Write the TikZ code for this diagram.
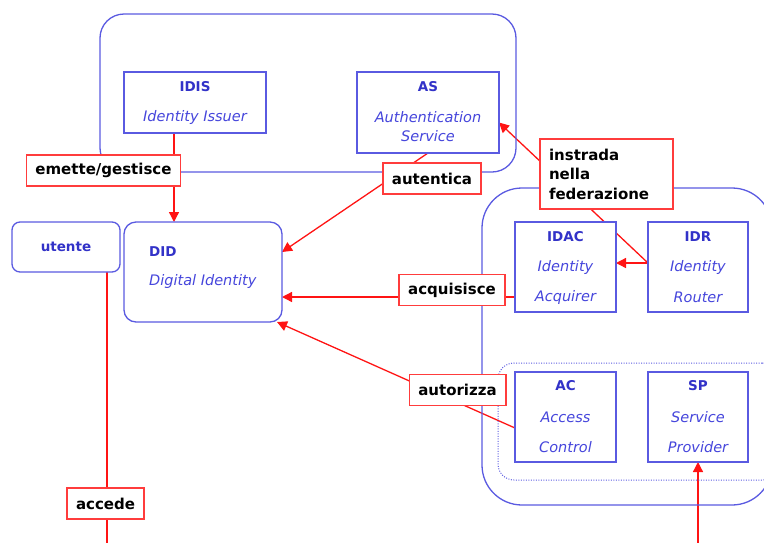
\documentclass[tikz,border=0pt]{standalone}
\usepackage{fontspec}
\setmainfont{DejaVu Sans}
\usetikzlibrary{arrows.meta,positioning,calc}
\pgfdeclarelayer{bg}
\pgfsetlayers{bg,main}
\definecolor{fedblue}{RGB}{90,90,225}
\definecolor{titleblue}{RGB}{50,50,200}
\definecolor{subblue}{RGB}{70,70,220}
\definecolor{linkred}{RGB}{255,20,20}
\definecolor{boxred}{RGB}{255,60,60}
\tikzstyle{container} = [rectangle, draw=fedblue, line width=1.3pt, inner sep=0pt, outer sep=0pt]
\tikzstyle{block} = [rectangle, draw=fedblue, fill=white, line width=1.3pt, inner sep=0pt, outer sep=0pt]
\tikzstyle{blocktitle} = [text=titleblue, font=\bfseries\fontsize{13.5}{15}\selectfont, inner sep=0pt]
\tikzstyle{blocksub} = [text=subblue, font=\itshape\fontsize{14.5}{17}\selectfont, inner sep=0pt]
\tikzstyle{verb} = [rectangle, draw=boxred, fill=white, line width=1.6pt, font=\bfseries\fontsize{15}{19.5}\selectfont, minimum height=31pt, inner xsep=9pt, inner ysep=0pt, outer sep=0pt]
\tikzstyle{link} = [draw=linkred, line width=1.3pt]
\tikzstyle{flow} = [link, -{Triangle[length=10pt,width=10pt]}]

\begin{document}
\begin{tikzpicture}[x=1pt, y=-1pt]
    \useasboundingbox (0,0) rectangle (764,542);

    \node[container, rounded corners=24pt, minimum width=416pt, minimum height=158pt] at (308,93) (fedtop) {};
    \node[container, rounded corners=40pt, minimum width=290pt, minimum height=317pt] at (627,346.5) (fedright) {};
    \node[container, line width=1pt, dash pattern=on 1pt off 1.5pt, rounded corners=16pt, minimum width=280pt, minimum height=117pt] at (638,421.5) (spdomain) {};

    \node[block, minimum width=142pt, minimum height=61pt] at (195,102.5) (idis) {};
    \node[blocktitle] at ($(idis.center)+(0,-16)$) (idisname) {IDIS};
    \node[blocksub] at ($(idis.center)+(0,15)$) (idisrole) {Identity Issuer};

    \node[block, minimum width=142pt, minimum height=81pt] at (428,112.5) (as) {};
    \node[blocktitle] at ($(as.center)+(0,-26)$) (asname) {AS};
    \node[blocksub] at ($(as.center)+(0,5)$) (asrole) {Authentication};
    \node[blocksub] at ($(as.center)+(0,24)$) (asrole2) {Service};

    \node[block, rounded corners=8pt, minimum width=108pt, minimum height=50pt, blocktitle] at (66,247) (utente) {utente};

    \node[block, rounded corners=12pt, minimum width=158pt, minimum height=100pt] at (203,272) (did) {};
    \node[blocktitle, anchor=west] at ($(did.center)+(-54,-20)$) (didname) {DID};
    \node[blocksub, anchor=west] at ($(did.center)+(-54,9)$) (didrole) {Digital Identity};

    \node[block, minimum width=101pt, minimum height=90pt] at (565.5,267) (idac) {};
    \node[blocktitle] at ($(idac.center)+(0,-30)$) (idacname) {IDAC};
    \node[blocksub] at ($(idac.center)+(0,0)$) (idacrole) {Identity};
    \node[blocksub] at ($(idac.center)+(0,30)$) (idacrole2) {Acquirer};

    \node[block, minimum width=100pt, minimum height=90pt] at (698,267) (idr) {};
    \node[blocktitle] at ($(idr.center)+(0,-30)$) (idrname) {IDR};
    \node[blocksub] at ($(idr.center)+(0,0)$) (idrrole) {Identity};
    \node[blocksub] at ($(idr.center)+(0,30)$) (idrrole2) {Router};

    \node[block, minimum width=101pt, minimum height=90pt] at (565.5,417) (ac) {};
    \node[blocktitle] at ($(ac.center)+(0,-31)$) (acname) {AC};
    \node[blocksub] at ($(ac.center)+(0,0)$) (acrole) {Access};
    \node[blocksub] at ($(ac.center)+(0,30)$) (acrole2) {Control};

    \node[block, minimum width=100pt, minimum height=90pt] at (698,417) (sp) {};
    \node[blocktitle] at ($(sp.center)+(0,-31)$) (spname) {SP};
    \node[blocksub] at ($(sp.center)+(0,0)$) (sprole) {Service};
    \node[blocksub] at ($(sp.center)+(0,30)$) (sprole2) {Provider};

    \node[verb] at (103.5,170.5) (emette) {emette/gestisce};
    \node[verb] at (432,178.5) (autentica) {autentica};
    \node[verb] at (452,290) (acquisisce) {acquisisce};
    \node[verb] at (457.5,390) (autorizza) {autorizza};
    \node[verb] at (105.5,503.5) (accede) {accede};
    \node[verb, text width=115pt, align=left, minimum height=70pt] at (606.5,174) (instrada) {instrada\\nella\\federazione};

    \coordinate (acqport) at ([yshift=-30pt]idac.west);
    \coordinate (idrport) at ([yshift=4pt]idr.west);
    \coordinate (userend) at (107,545);
    \coordinate (spuser) at (698,545);

    \begin{pgfonlayer}{bg}
        \draw[flow] ([xshift=-21pt]idis.south) -- ([xshift=-21pt]idis.south |- did.north);
        \draw[flow] (as.south) -- ([yshift=20pt]did.east);
        \draw[flow] (acqport) -- (acqport -| did.east);
        \draw[flow] ([yshift=-11pt]ac.west) -- ([xshift=-5pt]did.south east);
        \draw[flow] (idrport) -- (idrport -| idac.east);
        \draw[flow] (idrport) -- ([yshift=-10pt]as.east);
        \draw[link] ([xshift=41pt]utente.south) -- (userend);
        \draw[flow] (spuser) -- (sp.south);
    \end{pgfonlayer}
\end{tikzpicture}
\end{document}
